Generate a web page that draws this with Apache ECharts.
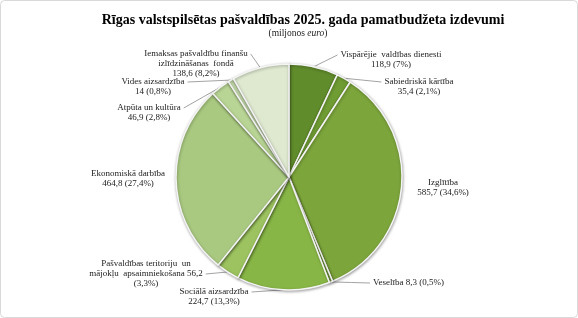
<!DOCTYPE html>
<html>
<head>
<meta charset="utf-8">
<script src="https://cdn.jsdelivr.net/npm/echarts@6/dist/echarts.min.js"></script>
<style>
html,body{margin:0;padding:0;background:#fff;}
#main{width:578px;height:318px;}
</style>
</head>
<body>
<div id="main"></div>
<script>
// ---- data ----
var categories = [
  'Vispārējie  valdības dienesti',
  'Sabiedriskā kārtība',
  'Izglītība',
  'Veselība',
  'Sociālā aizsardzība',
  'Pašvaldības teritoriju  un\nmājokļu  apsaimniekošana',
  'Ekonomiskā darbība',
  'Atpūta un kultūra',
  'Vides aizsardzība',
  'Iemaksas pašvaldību finanšu\nizlīdzināšanas  fondā'
];
var values = [118.9, 35.4, 585.7, 8.3, 224.7, 56.2, 464.8, 46.9, 14, 138.6];
var percents = [7, 2.1, 34.6, 0.5, 13.3, 3.3, 27.4, 2.8, 0.8, 8.2];

// ---- styles / layout ----
var colors = ['#618c2c', '#6f9c33', '#7ca53b', '#7aa63e', '#88b646', '#9cc35f', '#a9c980', '#b9d595', '#c9deaf', '#dfe9d0'];
var nameSep = ['\n', '\n', '\n', ' ', '\n', ' ', '\n', '\n', '\n', '\n'];
var valSep = [' ', ' ', ' ', ' ', ' ', '\n', ' ', ' ', ' ', ' '];
var showLine = [true, true, false, true, true, true, false, true, true, true];
var labelPos = [
  {x: 391, y: 60, align: 'center'},
  {x: 419, y: 87, align: 'center'},
  {x: 443, y: 188, align: 'center'},
  {x: 373, y: 283, align: 'left'},
  {x: 214, y: 297, align: 'center'},
  {x: 146, y: 274, align: 'center'},
  {x: 128, y: 179, align: 'center'},
  {x: 149, y: 113, align: 'center'},
  {x: 153, y: 87, align: 'center'},
  {x: 196, y: 64, align: 'center'}
];
// which text line the leader line points at (0 = first line)
var lineAnchor = [0, 0, 0, 0, 0, 1, 0, 0, 0, 0];

function fmt(v) { return String(v).replace('.', ','); }

var data = values.map(function (v, i) {
  return {
    name: categories[i],
    value: v,
    itemStyle: {color: colors[i]},
    label: {
      formatter: categories[i] + nameSep[i] + fmt(v) + valSep[i] + '(' + fmt(percents[i]) + '%)'
    },
    labelLine: {show: showLine[i]}
  };
});

var LH = 10;
var chart = echarts.init(document.getElementById('main'));
chart.setOption({
  animation: false,
  backgroundColor: '#fff',
  title: [{
    text: 'Rīgas valstspilsētas pašvaldības 2025. gada pamatbudžeta izdevumi',
    left: 298,
    textAlign: 'center',
    top: 8,
    textStyle: {fontFamily: 'Liberation Serif', fontSize: 14, fontWeight: 'bold', color: '#000'}
  }, {
    text: '(miljonos {i|euro})',
    left: 293,
    textAlign: 'center',
    top: 23,
    textStyle: {
      fontFamily: 'Liberation Serif', fontSize: 9.5, fontWeight: 'normal', color: '#222',
      rich: {i: {fontFamily: 'Liberation Serif', fontSize: 9.5, fontStyle: 'italic', color: '#222'}}
    }
  }],
  graphic: [{
    type: 'rect',
    shape: {x: 0.5, y: 0.5, width: 577, height: 317, r: 4},
    style: {fill: 'none', stroke: '#d9d9d9', lineWidth: 1},
    silent: true
  }],
  series: [{
    type: 'pie',
    center: [289, 177],
    radius: [0, 113],
    startAngle: 90,
    clockwise: true,
    data: data,
    itemStyle: {
      borderColor: '#f4f4f4',
      borderWidth: 1.5,
      shadowBlur: 3,
      shadowColor: 'rgba(0,0,0,0.35)',
      shadowOffsetX: 0.5,
      shadowOffsetY: 1
    },
    label: {
      show: true,
      fontFamily: 'Liberation Serif',
      fontSize: 9,
      lineHeight: LH,
      color: '#222'
    },
    labelLine: {
      show: true,
      lineStyle: {color: '#8c8c8c', width: 0.8}
    },
    labelLayout: function (p) {
      var i = p.dataIndex;
      var lp = labelPos[i];
      var w = p.labelRect.width, h = p.labelRect.height;
      var left = lp.align === 'left' ? lp.x : lp.x - w / 2;
      var top = lp.y - h / 2;
      var res = {x: lp.x, y: lp.y, align: lp.align, verticalAlign: 'middle'};
      if (showLine[i] && p.labelLinePoints && p.labelLinePoints.length) {
        var start = p.labelLinePoints[0];
        var ey = top + LH * lineAnchor[i] + LH / 2;
        var ex = start[0] < left ? left - 3 : left + w + 3;
        res.labelLinePoints = [start, [(start[0] + ex) / 2, (start[1] + ey) / 2], [ex, ey]];
      }
      return res;
    }
  }]
});
</script>
</body>
</html>
